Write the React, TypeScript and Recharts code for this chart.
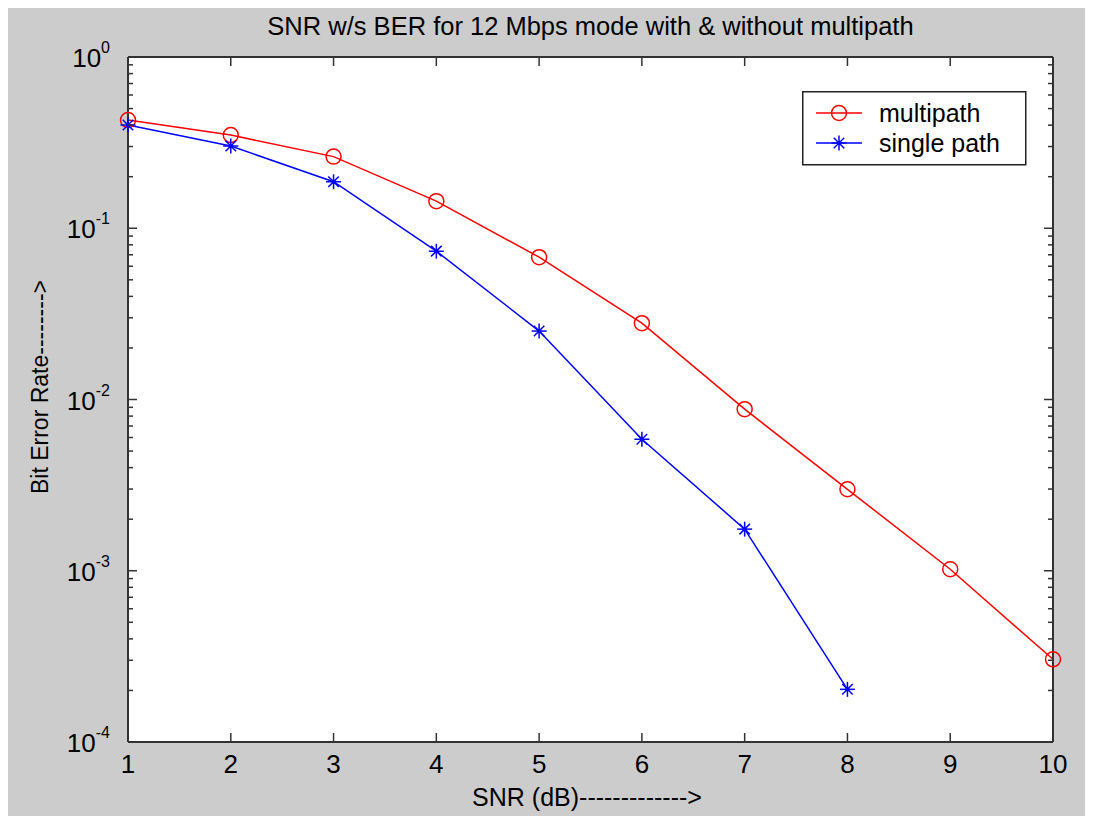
import React from "react";
import {
    LineChart,
    Line,
    XAxis,
    YAxis,
} from "recharts";

// SNR (dB) on the x axis
const snr = [1, 2, 3, 4, 5, 6, 7, 8, 9, 10];
// BER
const multipath = [0.428, 0.35, 0.262, 0.144, 0.0678, 0.0279, 0.00878, 0.00299, 0.00102, 0.000304];
const singlePath = [0.401, 0.302, 0.187, 0.0735, 0.0251, 0.00586, 0.00175, 0.000203];

const xTicks = [1, 2, 3, 4, 5, 6, 7, 8, 9, 10];
const decades = [-4, -3, -2, -1, 0];

const chartData = snr.map((s, i) => ({
    snr: s,
    multipath: multipath[i],
    single: i < singlePath.length ? singlePath[i] : null,
}));

// major + minor log ticks (1..9 x 10^n)
const yTicks: number[] = [];
decades.forEach(d => {
    if (d === 0) {
        yTicks.push(1);
        return;
    }
    for (let m = 1; m <= 9; m++) yTicks.push(Number((m * Math.pow(10, d)).toPrecision(3)));
});

const W = 1085;
const H = 808;
const PLOT_LEFT = 120;
const PLOT_RIGHT = 1045;
const PLOT_TOP = 49;
const PLOT_BOTTOM = 734;
const FONT = "'Liberation Sans', Arial, sans-serif";
const AXIS_COLOR = "#333";

const isDecade = (v: number) => Math.abs(Math.log10(v) - Math.round(Math.log10(v))) < 1e-6;

const LeftTick = (props: any) => {
    const { y, payload } = props;
    const v = payload.value;
    const major = isDecade(v);
    const exp = Math.round(Math.log10(v));
    return (
        <g>
            <line x1={PLOT_LEFT} x2={PLOT_LEFT + (major ? 9 : 5)} y1={y} y2={y} stroke={AXIS_COLOR} strokeWidth={1.5} />
            {major && (
                <text x={PLOT_LEFT - 18} y={y + 10} textAnchor="end" fontFamily={FONT} fontSize={26} fill="#000">
                    10
                    <tspan dy={-14} fontSize={16}>{exp}</tspan>
                </text>
            )}
        </g>
    );
};

const RightTick = (props: any) => {
    const { y, payload } = props;
    const major = isDecade(payload.value);
    return (
        <line x1={PLOT_RIGHT} x2={PLOT_RIGHT - (major ? 9 : 5)} y1={y} y2={y} stroke={AXIS_COLOR} strokeWidth={1.5} />
    );
};

const BottomTick = (props: any) => {
    const { x, payload } = props;
    return (
        <g>
            <line x1={x} x2={x} y1={PLOT_BOTTOM} y2={PLOT_BOTTOM - 9} stroke={AXIS_COLOR} strokeWidth={1.5} />
            <text x={x} y={PLOT_BOTTOM + 31} textAnchor="middle" fontFamily={FONT} fontSize={26} fill="#000">
                {payload.value}
            </text>
        </g>
    );
};

const TopTick = (props: any) => {
    const { x } = props;
    return <line x1={x} x2={x} y1={PLOT_TOP} y2={PLOT_TOP + 9} stroke={AXIS_COLOR} strokeWidth={1.5} />;
};

const YLabel = () => (
    <text
        x={32}
        y={379}
        transform="rotate(-90, 32, 379)"
        textAnchor="middle"
        dominantBaseline="central"
        fontFamily={FONT}
        fontSize={23}
        fill="#000"
    >
        Bit Error Rate--------&gt;
    </text>
);

const XLabel = () => (
    <text
        x={579}
        y={789}
        textAnchor="middle"
        dominantBaseline="central"
        fontFamily={FONT}
        fontSize={25}
        fill="#000"
    >
        SNR (dB)-------------&gt;
    </text>
);

const CircleDot = (props: any) => {
    const { cx, cy, index } = props;
    if (cx == null || cy == null) return <g key={`c-${index}`} />;
    return <circle key={`c-${index}`} cx={cx} cy={cy} r={7.5} fill="none" stroke="#ff0000" strokeWidth={1.5} />;
};

const StarDot = (props: any) => {
    const { cx, cy, index, value } = props;
    if (cx == null || cy == null || value == null) return <g key={`s-${index}`} />;
    const r = 7.5;
    const d = r * 0.7;
    return (
        <g key={`s-${index}`} stroke="#0000ff" strokeWidth={1.5}>
            <line x1={cx - r} x2={cx + r} y1={cy} y2={cy} />
            <line x1={cx} x2={cx} y1={cy - r} y2={cy + r} />
            <line x1={cx - d} x2={cx + d} y1={cy - d} y2={cy + d} />
            <line x1={cx - d} x2={cx + d} y1={cy + d} y2={cy - d} />
            <circle cx={cx} cy={cy} r={2.2} fill="#0000ff" stroke="none" />
        </g>
    );
};

const LegendBox = () => (
    <svg width={225} height={75} style={{ display: "block" }}>
        <rect x={0.75} y={0.75} width={223} height={73} fill="#fff" stroke="#222" strokeWidth={1.5} />
        <line x1={14} x2={60} y1={22} y2={22} stroke="#ff0000" strokeWidth={1.5} />
        <circle cx={37} cy={22} r={7.5} fill="none" stroke="#ff0000" strokeWidth={1.5} />
        <text x={77} y={31} fontFamily={FONT} fontSize={25} fill="#000">multipath</text>
        <line x1={14} x2={60} y1={52} y2={52} stroke="#0000ff" strokeWidth={1.5} />
        <StarDot cx={37} cy={52} index={99} value={1} />
        <text x={77} y={61} fontFamily={FONT} fontSize={25} fill="#000">single path</text>
    </svg>
);

export default function App() {
    return (
        <div style={{ position: "relative", width: W, height: H, background: "#cccccc" }}>
            <div
                style={{
                    position: "absolute",
                    top: 4,
                    left: 0,
                    width: W,
                    textAlign: "center",
                    fontFamily: FONT,
                    fontSize: 25.5,
                    color: "#000",
                    paddingLeft: (PLOT_LEFT - (W - PLOT_RIGHT)),
                    boxSizing: "border-box",
                }}
            >
                SNR w/s BER for 12 Mbps mode with &amp; without multipath
            </div>
            <LineChart width={W} height={H} data={chartData} margin={{ top: 0, right: 0, bottom: 0, left: 0 }}>
                <rect x={PLOT_LEFT} y={PLOT_TOP} width={PLOT_RIGHT - PLOT_LEFT} height={PLOT_BOTTOM - PLOT_TOP} fill="#fff" />
                <XAxis
                    xAxisId="bottom"
                    dataKey="snr"
                    type="number"
                    domain={[1, 10]}
                    ticks={xTicks}
                    height={H - PLOT_BOTTOM}
                    axisLine={{ stroke: AXIS_COLOR, strokeWidth: 2 }}
                    tickLine={false}
                    tick={<BottomTick />}
                    interval={0}
                    label={<XLabel />}
                />
                <XAxis
                    xAxisId="top"
                    orientation="top"
                    dataKey="snr"
                    type="number"
                    domain={[1, 10]}
                    ticks={xTicks}
                    height={PLOT_TOP}
                    axisLine={{ stroke: AXIS_COLOR, strokeWidth: 2 }}
                    tickLine={false}
                    tick={<TopTick />}
                    interval={0}
                />
                <YAxis
                    yAxisId="left"
                    scale="log"
                    type="number"
                    domain={[0.0001, 1]}
                    ticks={yTicks}
                    allowDataOverflow
                    width={PLOT_LEFT}
                    axisLine={{ stroke: AXIS_COLOR, strokeWidth: 2 }}
                    tickLine={false}
                    tick={<LeftTick />}
                    interval={0}
                    label={<YLabel />}
                />
                <YAxis
                    yAxisId="right"
                    orientation="right"
                    scale="log"
                    type="number"
                    domain={[0.0001, 1]}
                    ticks={yTicks}
                    allowDataOverflow
                    width={W - PLOT_RIGHT}
                    axisLine={{ stroke: AXIS_COLOR, strokeWidth: 2 }}
                    tickLine={false}
                    tick={<RightTick />}
                    interval={0}
                />
                <Line
                    xAxisId="bottom"
                    yAxisId="left"
                    dataKey="multipath"
                    name="multipath"
                    stroke="#ff0000"
                    strokeWidth={1.5}
                    dot={<CircleDot />}
                    isAnimationActive={false}
                />
                <Line
                    xAxisId="bottom"
                    yAxisId="left"
                    dataKey="single"
                    name="single path"
                    stroke="#0000ff"
                    strokeWidth={1.5}
                    dot={<StarDot />}
                    isAnimationActive={false}
                />
            </LineChart>
            <div style={{ position: "absolute", top: 83, left: 794 }}>
                <LegendBox />
            </div>
        </div>
    );
}
